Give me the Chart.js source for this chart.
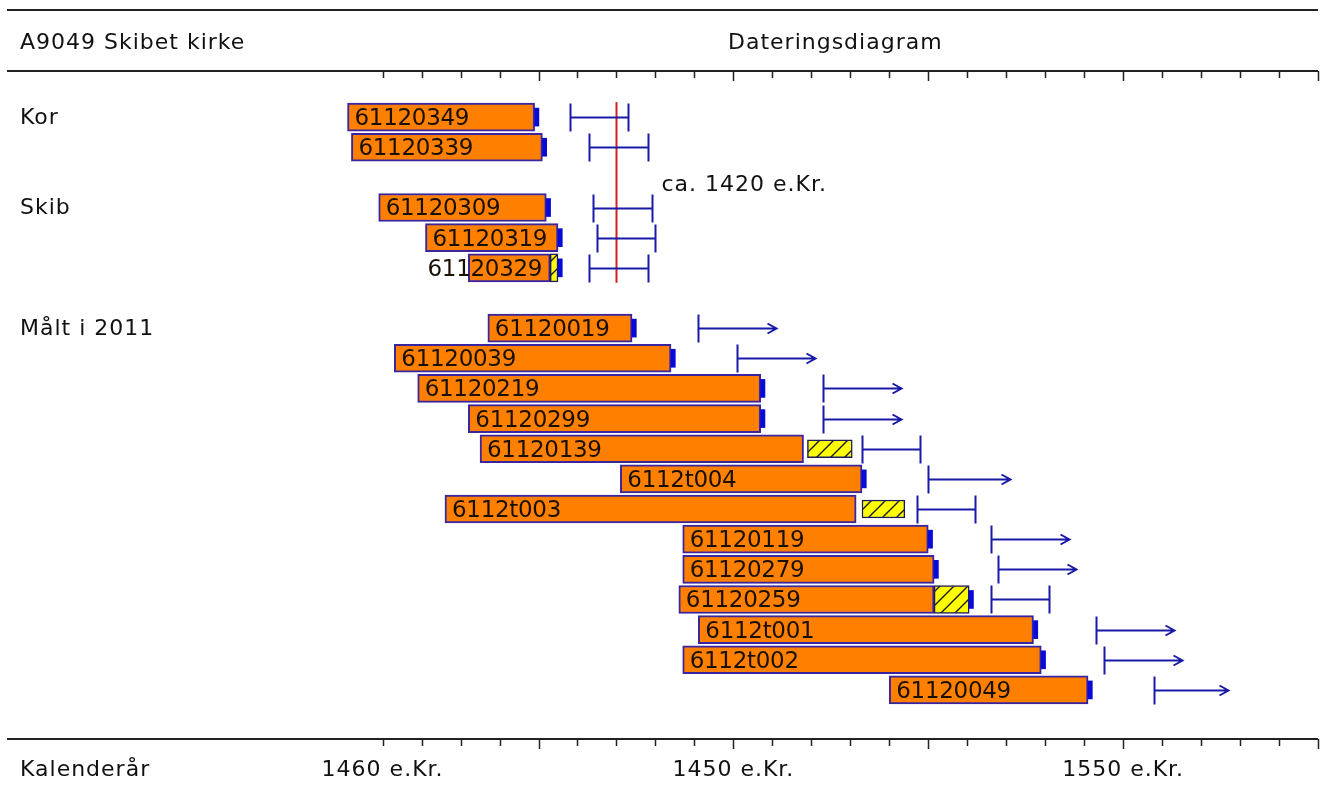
<!DOCTYPE html>
<html>
<head>
<meta charset="utf-8">
<title>Dateringsdiagram</title>
<script src="https://cdn.jsdelivr.net/npm/chart.js@4.4.0/dist/chart.umd.min.js"></script>
<style>
  html, body { margin: 0; padding: 0; background: #fff; }
  #chart { display: block; }
</style>
</head>
<body>
<canvas id="chart" width="1323" height="796"></canvas>
<script>
'use strict';

// ── Data ──
const rowIds = ['61120349', '61120339', '', '61120309', '61120319', '61120329', ' ',
  '61120019', '61120039', '61120219', '61120299', '61120139', '6112t004', '6112t003',
  '61120119', '61120279', '61120259', '6112t001', '6112t002', '61120049'];

const groupNames = ['Kor', 'Skib', 'Målt i 2011'];
const groupRows = [0, 3, 7];

// first / last measured ring
const ringStart = [1351, 1352, null, 1359, 1371, 1382, null, 1387, 1363, 1369, 1382, 1385, 1421, 1376, 1437, 1437, 1436, 1441, 1437, 1490];
const ringEnd   = [1399, 1401, null, 1402, 1405, 1403, null, 1424, 1434, 1457, 1457, 1468, 1483, 1481.5, 1500, 1501.5, 1501.5, 1527, 1529, 1541];

// sapwood (hatched) – attached = full height, loose = small box
const sapFrom     = [null, null, null, null, null, 1403, null, null, null, null, null, 1469, null, 1483, null, null, 1501.5, null, null, null];
const sapTo       = [null, null, null, null, null, 1405, null, null, null, null, null, 1480.5, null, 1494, null, null, 1510.5, null, null, null];
const sapAttached = [null, null, null, null, null, true, null, null, null, null, null, false, null, false, null, null, true, null, null, null];

// dark blue end mark
const endMark = [true, true, null, true, true, true, null, true, true, true, true, false, true, false, true, true, true, true, true, true];

// felling interval, open = "after" arrow
const fellFrom = [1408, 1413, null, 1414, 1415, 1413, null, 1441, 1451, 1473, 1473, 1483, 1500, 1497, 1516, 1518, 1516, 1543, 1545, 1558];
const fellTo   = [1423, 1428, null, 1429, 1430, 1428, null, 1461, 1471, 1493, 1493, 1498, 1521, 1512, 1536, 1538, 1531, 1563, 1565, 1577];
const fellOpen = [false, false, null, false, false, false, null, true, true, true, true, false, true, false, true, true, false, true, true, true];

const buildYear = 1420;
const buildText = 'ca. 1420 e.Kr.';

const tickYears = [];
for (let v = 1360; v <= 1600; v += 10) tickYears.push(v);
const axisLabelYears = [1360, 1450, 1550];
const axisLabelText = ['1460 e.Kr.', '1450 e.Kr.', '1550 e.Kr.'];

// ── Styles ──
const FONT = '"DejaVu Sans", sans-serif';
const BLUE = '#1a1aa8';
const ORANGE = '#ff8000';

function hatchPattern() {
  const n = 14;
  const c = document.createElement('canvas');
  c.width = n; c.height = n;
  const g = c.getContext('2d');
  g.fillStyle = '#ffff00';
  g.fillRect(0, 0, n, n);
  g.strokeStyle = '#1a1a1a';
  g.lineWidth = 1.4;
  g.beginPath();
  g.moveTo(0, n); g.lineTo(n, 0);
  g.moveTo(-2, 2); g.lineTo(2, -2);
  g.moveTo(n - 2, n + 2); g.lineTo(n + 2, n - 2);
  g.stroke();
  return g.createPattern(c, 'repeat');
}
const hatch = hatchPattern();

const ringData = ringStart.map((s, i) => s == null ? null : [s, ringEnd[i]]);
const sapFullData = sapFrom.map((s, i) => s != null && sapAttached[i] ? [s, sapTo[i]] : null);
const sapLooseData = sapFrom.map((s, i) => s != null && !sapAttached[i] ? [s, sapTo[i]] : null);
const markData = endMark.map((m, i) => {
  if (!m) return null;
  const e = sapTo[i] != null && sapAttached[i] ? sapTo[i] : ringEnd[i];
  return [e, e + 1.1];
});

function setText(ctx, size, spacing) {
  ctx.font = size + 'px ' + FONT;
  ctx.letterSpacing = spacing + 'px';
}

// ── Frame, texts and felling intervals ──
const framePlugin = {
  id: 'frame',
  beforeDatasetsDraw(chart) {
    const { ctx, scales: { x } } = chart;
    const right = x.getPixelForValue(1600);
    ctx.save();
    ctx.strokeStyle = '#222';
    ctx.lineWidth = 2;
    ctx.beginPath();
    [10, 71, 739].forEach(yy => { ctx.moveTo(7, yy); ctx.lineTo(right, yy); });
    ctx.stroke();
    ctx.lineWidth = 1.5;
    ctx.beginPath();
    tickYears.forEach(v => {
      const px = Math.round(x.getPixelForValue(v)) + 0.5;
      const len = v % 50 === 0 ? 10 : 7;
      ctx.moveTo(px, 71); ctx.lineTo(px, 71 + len);
      ctx.moveTo(px, 739); ctx.lineTo(px, 739 + len);
    });
    ctx.stroke();

    ctx.fillStyle = '#111';
    setText(ctx, 22, 1);
    ctx.textBaseline = 'middle';
    ctx.textAlign = 'left';
    ctx.fillText('A9049 Skibet kirke', 20, 43);
    ctx.fillText('Dateringsdiagram', 728, 43);
    ctx.fillText('Kalenderår', 20, 770);
    ctx.textAlign = 'center';
    axisLabelYears.forEach((v, i) => ctx.fillText(axisLabelText[i], x.getPixelForValue(v), 770));
    ctx.restore();
  },
  afterDatasetsDraw(chart) {
    const { ctx, scales: { x, y } } = chart;
    ctx.save();

    // group names
    ctx.fillStyle = '#111';
    setText(ctx, 22, 1);
    ctx.textBaseline = 'middle';
    ctx.textAlign = 'left';
    groupNames.forEach((g, i) => ctx.fillText(g, 20, y.getPixelForValue(groupRows[i]) + 1));

    // sample ids in the bars
    setText(ctx, 23, -0.3);
    ctx.fillStyle = '#1a1000';
    ringStart.forEach((s, i) => {
      if (s == null) return;
      const l = x.getPixelForValue(s);
      const r = x.getPixelForValue(ringEnd[i]);
      const w = ctx.measureText(rowIds[i]).width;
      const tx = Math.min(l + 7, r - 8 - w);
      ctx.fillText(rowIds[i], tx, y.getPixelForValue(i) + 2);
    });

    // building date line
    const bx = Math.round(x.getPixelForValue(buildYear)) + 0.5;
    ctx.strokeStyle = '#d02020';
    ctx.lineWidth = 2;
    ctx.beginPath();
    ctx.moveTo(bx, y.getPixelForValue(0) - 15);
    ctx.lineTo(bx, y.getPixelForValue(5) + 15);
    ctx.stroke();
    ctx.fillStyle = '#111';
    setText(ctx, 22, 1);
    ctx.fillText(buildText, bx + 45, (y.getPixelForValue(2) + y.getPixelForValue(3)) / 2 - 7);

    // felling intervals
    ctx.strokeStyle = BLUE;
    ctx.lineWidth = 2;
    fellFrom.forEach((f, i) => {
      if (f == null) return;
      const cy = Math.round(y.getPixelForValue(i)) + 0.5;
      const x0 = Math.round(x.getPixelForValue(f)) + 0.5;
      const x1 = Math.round(x.getPixelForValue(fellTo[i])) + 0.5;
      ctx.beginPath();
      ctx.moveTo(x0, cy - 14); ctx.lineTo(x0, cy + 14);
      ctx.moveTo(x0, cy); ctx.lineTo(x1, cy);
      if (fellOpen[i]) {
        ctx.moveTo(x1 - 9, cy - 5); ctx.lineTo(x1, cy); ctx.lineTo(x1 - 9, cy + 5);
      } else {
        ctx.moveTo(x1, cy - 14); ctx.lineTo(x1, cy + 14);
      }
      ctx.stroke();
    });
    ctx.restore();
  }
};

new Chart(document.getElementById('chart'), {
  type: 'bar',
  data: {
    labels: rowIds,
    datasets: [
      { label: 'mark', data: markData, backgroundColor: '#0a0ad8', borderWidth: 0,
        barThickness: 18, grouped: false, order: 0 },
      { label: 'sap loose', data: sapLooseData, backgroundColor: hatch, borderColor: '#1a1a60',
        borderWidth: 1.5, borderSkipped: false, barThickness: 18, grouped: false, order: 1 },
      { label: 'sap', data: sapFullData, backgroundColor: hatch, borderColor: '#1a1a60',
        borderWidth: 1.5, borderSkipped: false, barThickness: 28, grouped: false, order: 2 },
      { label: 'rings', data: ringData, backgroundColor: ORANGE, borderColor: '#3a24a0',
        borderWidth: 2, borderSkipped: false, barThickness: 28, grouped: false, order: 3 }
    ]
  },
  options: {
    responsive: false,
    animation: false,
    indexAxis: 'y',
    layout: { padding: { top: 102, bottom: 91, left: 10, right: 5 } },
    plugins: { legend: { display: false }, tooltip: { enabled: false } },
    scales: {
      x: { type: 'linear', min: 1264.4, max: 1600, display: false },
      y: { type: 'category', display: false, offset: true }
    }
  },
  plugins: [framePlugin]
});
</script>
</body>
</html>
